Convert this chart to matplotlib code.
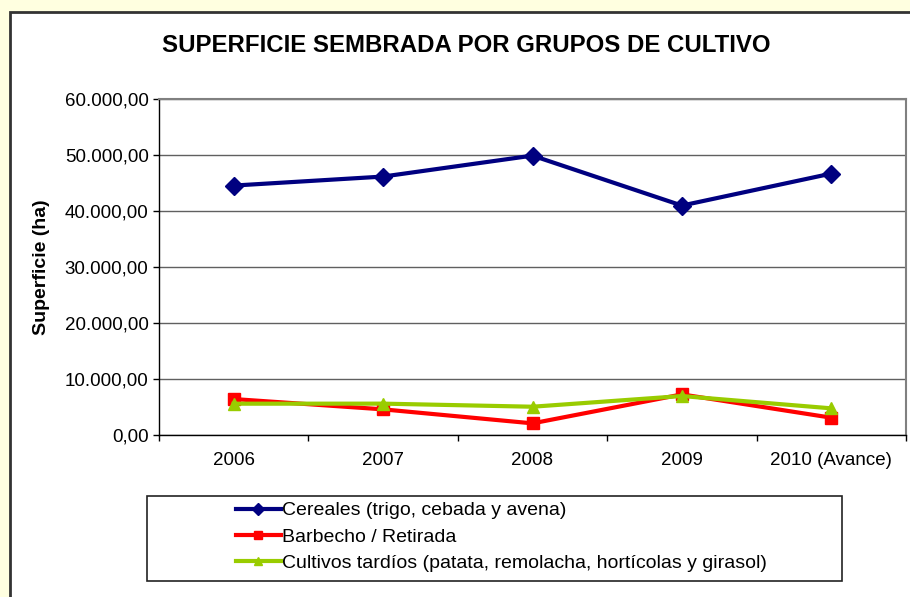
import matplotlib
matplotlib.use("Agg")
import matplotlib.pyplot as plt
from matplotlib.patches import Rectangle
from matplotlib.lines import Line2D
from matplotlib.ticker import FuncFormatter, FixedLocator

categories = ["2006", "2007", "2008", "2009", "2010 (Avance)"]
cereales = [44540, 46150, 49890, 40970, 46680]
barbecho = [6420, 4580, 2080, 7250, 3090]
cultivos = [5590, 5600, 5050, 6960, 4760]
series_names = ["Cereales (trigo, cebada y avena)", "Barbecho / Retirada",
                "Cultivos tardíos (patata, remolacha, hortícolas y girasol)"]

plt.rcParams['font.family'] = ['Liberation Sans', 'DejaVu Sans']

W, H = 910, 597
fig = plt.figure(figsize=(W/100, H/100), dpi=100, facecolor='#FFFFE0')

# chart area
fig.patches.append(Rectangle((10/W, -0.1), 1.2, 1 - 12/H + 0.1, transform=fig.transFigure,
                             facecolor='white', edgecolor='#333333', linewidth=2, zorder=-2))

L, R, T, B = 159, 906, 99, 435
ax = fig.add_axes([L/W, 1 - B/H, (R-L)/W, (B-T)/H])
ax.set_zorder(2)
ax.set_facecolor('white')

x = list(range(len(categories)))
ax.plot(x, cereales, color='#000080', lw=3, marker='D', ms=9, zorder=3, clip_on=False)
ax.plot(x, barbecho, color='#FF0000', lw=3, marker='s', ms=8, zorder=3, clip_on=False)
ax.plot(x, cultivos, color='#99CC00', lw=3, marker='^', ms=8.5, zorder=4, clip_on=False)

ax.set_xlim(-0.5, len(categories) - 0.5)
ax.set_ylim(0, 60000)
ax.set_yticks(range(0, 60001, 10000))
ax.yaxis.set_major_formatter(FuncFormatter(
    lambda v, p: "{:,.2f}".format(v).replace(",", "X").replace(".", ",").replace("X", ".")))
ax.set_xticks(x)
ax.set_xticklabels(categories)
ax.xaxis.set_minor_locator(FixedLocator([i - 0.5 for i in range(len(categories) + 1)]))
ax.tick_params(axis='x', which='major', length=0, pad=12, labelsize=13.5)
ax.tick_params(axis='x', which='minor', length=4.5, width=1, direction='out')
ax.tick_params(axis='y', length=4.5, width=1, direction='out', pad=3, labelsize=13.5)

ax.grid(axis='y', color='#606060', lw=1)
ax.set_axisbelow(True)
for s in ['top', 'right']:
    ax.spines[s].set_color('#808080')
    ax.spines[s].set_linewidth(1.5)
for s in ['left', 'bottom']:
    ax.spines[s].set_color('black')
    ax.spines[s].set_linewidth(1)

fig.text(466/W, 1 - 46/H, "SUPERFICIE SEMBRADA POR GRUPOS DE CULTIVO", ha='center', va='center',
         fontsize=17.3, fontweight='bold')
fig.text(42/W, 1 - 267/H, "Superficie (ha)", rotation=90, ha='center', va='center',
         fontsize=14, fontweight='bold')

# legend box
fig.patches.append(Rectangle((147/W, 1 - 581/H), (842-147)/W, (581-496)/H, transform=fig.transFigure,
                             facecolor='white', edgecolor='#222222', linewidth=1.2, zorder=-1))
handles = [
    Line2D([], [], color='#000080', lw=3, marker='D', ms=6),
    Line2D([], [], color='#FF0000', lw=3, marker='s', ms=6),
    Line2D([], [], color='#99CC00', lw=3, marker='^', ms=6),
]
fig.legend(handles, series_names, loc='upper left', bbox_to_anchor=(228/W, 1 - 494/H),
           frameon=False, fontsize=14, handlelength=2.3, handletextpad=0.08, labelspacing=0.45,
           borderaxespad=0)

fig.savefig("out.png", dpi=100, facecolor=fig.get_facecolor())
